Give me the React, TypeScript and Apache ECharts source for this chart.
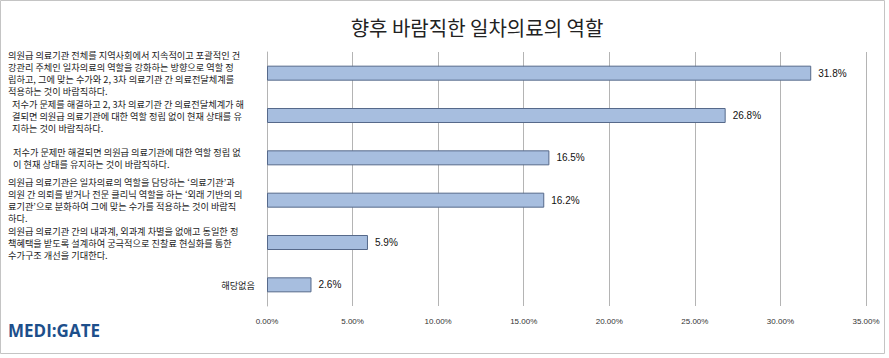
import React, { useEffect, useRef } from "react";
import * as echarts from "echarts";

const titleText = "향후 바람직한 일차의료의 역할";

const categories: string[] = [
  "의원급 의료기관 전체를 지역사회에서 지속적이고 포괄적인 건\n강관리 주체인 일차의료의 역할을 강화하는 방향으로 역할 정\n립하고, 그에 맞는 수가와 2, 3차 의료기관 간 의료전달체계를\n적용하는 것이 바람직하다.",
  "저수가 문제를 해결하고 2, 3차 의료기관 간 의료전달체계가 해\n결되면 의원급 의료기관에 대한 역할 정립 없이 현재 상태를 유\n지하는 것이 바람직하다.",
  "저수가 문제만 해결되면 의원급 의료기관에 대한 역할 정립 없\n이 현재 상태를 유지하는 것이 바람직하다.",
  "의원급 의료기관은 일차의료의 역할을 담당하는 ‘의료기관’과\n의원 간 의뢰를 받거나 전문 클리닉 역할을 하는 ‘외래 기반의 의\n료기관’으로 분화하여 그에 맞는 수가를 적용하는 것이 바람직\n하다.",
  "의원급 의료기관 간의 내과계, 외과계 차별을 없애고 동일한 정\n책혜택을 받도록 설계하여 궁극적으로 진찰료 현실화를 통한\n수가구조 개선을 기대한다.",
  "해당없음",
];

const values: number[] = [31.8, 26.8, 16.5, 16.2, 5.9, 2.6];

const labelStyleNames: string[] = ["a", "b", "c", "a", "a", "d"];

const xTicks = { min: 0, max: 35, interval: 5 };

export default function App() {
  const ref = useRef<HTMLDivElement>(null);
  useEffect(() => {
    if (!ref.current) return;
    const chart = echarts.init(ref.current, undefined, { renderer: "svg" });
    const kr = "'Noto Sans CJK KR', sans-serif";
    const base = { fontFamily: kr, fontSize: 9.2, lineHeight: 12, color: "#222" };
    chart.setOption({
      animation: false,
      backgroundColor: "#ffffff",
      title: {
        text: titleText,
        left: 472,
        top: 12,
        textAlign: "center",
        textStyle: { fontFamily: kr, fontSize: 20, fontWeight: "normal", color: "#222" },
      },
      grid: { left: 267, right: 23, top: 52, bottom: 52, containLabel: false },
      xAxis: {
        type: "value",
        min: xTicks.min,
        max: xTicks.max,
        interval: xTicks.interval,
        axisLine: { show: false },
        axisTick: { show: false },
        splitLine: { show: true, lineStyle: { color: "#b4b4b4", width: 1 } },
        axisLabel: {
          formatter: (v: number) => `${v.toFixed(2)}%`,
          fontFamily: "'Liberation Sans', Arial, sans-serif",
          fontSize: 8,
          color: "#333",
          margin: 11,
        },
      },
      yAxis: {
        type: "category",
        inverse: true,
        data: categories,
        axisLine: { show: true, lineStyle: { color: "#b4b4b4" } },
        axisTick: { show: false },
        axisLabel: {
          margin: 9,
          ...base,
          formatter: (v: string, i: number) => {
            const s = labelStyleNames[i] || "a";
            return v
              .split("\n")
              .map((line) => `{${s}|${line}}`)
              .join("\n");
          },
          rich: {
            a: { ...base, width: 250, align: "left" },
            b: { ...base, width: 246, align: "left" },
            c: { ...base, width: 245, align: "left" },
            d: { ...base, padding: [0, 3, 0, 0] },
          },
        },
      },
      series: [
        {
          type: "bar",
          data: values,
          barWidth: 15,
          itemStyle: { color: "#a7bedf", borderColor: "#56698a", borderWidth: 1 },
          label: {
            show: true,
            position: "right",
            distance: 7,
            formatter: (p: any) => `${p.value.toFixed(1)}%`,
            fontFamily: "'Liberation Sans', Arial, sans-serif",
            fontSize: 10,
            color: "#111",
          },
        },
      ],
      graphic: [
        {
          type: "rect",
          shape: { x: 0.5, y: 0.5, width: 884, height: 353 },
          style: { fill: "none", stroke: "#c4c4c4", lineWidth: 1 },
          silent: true,
        },
        {
          type: "text",
          left: 8,
          top: 322,
          style: {
            text: "MEDI:GATE",
            fontFamily: "'Open Sans', sans-serif",
            fontWeight: "bold",
            fontSize: 17,
            fill: "#1d4f8b",
          },
        },
      ],
    });
    return () => chart.dispose();
  }, []);
  return (
    <div
      ref={ref}
      style={{ position: "fixed", left: 0, top: 0, width: 889, height: 358 }}
    />
  );
}
